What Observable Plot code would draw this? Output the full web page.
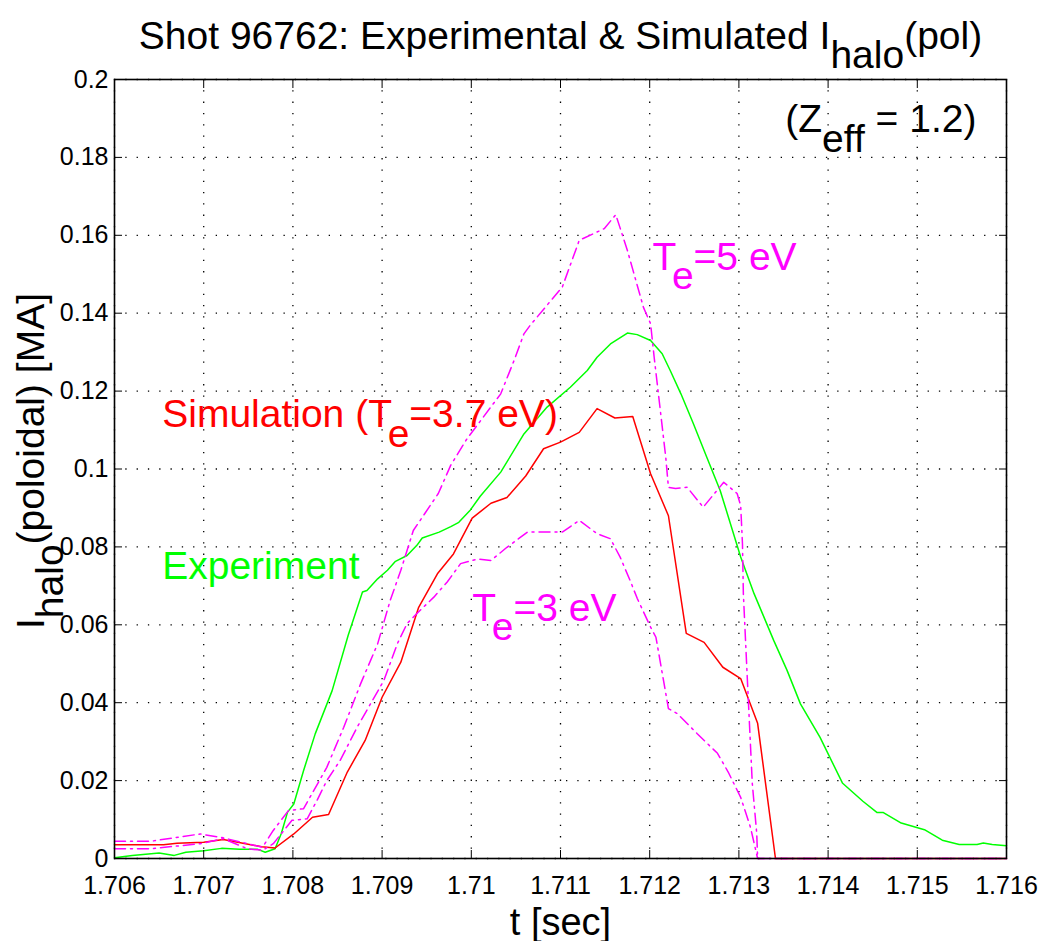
<!DOCTYPE html>
<html>
<head>
<meta charset="utf-8">
<script src="https://cdn.jsdelivr.net/npm/d3@7"></script>
<script src="https://cdn.jsdelivr.net/npm/@observablehq/plot@0.6"></script>
<style>
  html, body { margin: 0; padding: 0; background: #fff; }
  svg { display: block; }
</style>
</head>
<body>
<div id="chart"></div>
<script>
// ---------- data ----------
const expT = [1.70600, 1.70620, 1.70650, 1.70667, 1.70680, 1.70700, 1.70720, 1.70740, 1.70760, 1.70769, 1.70780, 1.70787, 1.70794, 1.70801, 1.70812, 1.70825, 1.70844, 1.70862, 1.70878, 1.70883, 1.70895, 1.70906, 1.70915, 1.70928, 1.70939, 1.70945, 1.70964, 1.70977, 1.70986, 1.70999, 1.71010, 1.71033, 1.71059, 1.71085, 1.71111, 1.71130, 1.71141, 1.71156, 1.71175, 1.71186, 1.71201, 1.71214, 1.71223, 1.71235, 1.71249, 1.71264, 1.71279, 1.71302, 1.71317, 1.71339, 1.71354, 1.71369, 1.71391, 1.71416, 1.71439, 1.71455, 1.71462, 1.71482, 1.71508, 1.71528, 1.71547, 1.71567, 1.71574, 1.71584, 1.71600];
const expI = [0.0002, 0.0008, 0.0014, 0.0008, 0.0016, 0.0020, 0.0026, 0.0024, 0.0024, 0.0016, 0.0025, 0.0064, 0.0119, 0.0140, 0.0226, 0.0320, 0.0431, 0.0573, 0.0684, 0.0688, 0.0718, 0.0740, 0.0763, 0.0778, 0.0804, 0.0823, 0.0838, 0.0852, 0.0863, 0.0895, 0.0930, 0.0992, 0.1090, 0.1159, 0.1210, 0.1253, 0.1287, 0.1321, 0.1349, 0.1345, 0.1330, 0.1296, 0.1253, 0.1193, 0.1116, 0.1030, 0.0945, 0.0774, 0.0680, 0.0560, 0.0483, 0.0397, 0.0311, 0.0194, 0.0147, 0.0118, 0.0118, 0.0091, 0.0074, 0.0047, 0.0036, 0.0036, 0.0040, 0.0036, 0.0033];

const simT = [1.70600, 1.70655, 1.70670, 1.70700, 1.70722, 1.70765, 1.70780, 1.70801, 1.70822, 1.70840, 1.70861, 1.70881, 1.70900, 1.70921, 1.70941, 1.70962, 1.70980, 1.71001, 1.71022, 1.71040, 1.71061, 1.71081, 1.71100, 1.71121, 1.71141, 1.71161, 1.71181, 1.71201, 1.71221, 1.71241, 1.71261, 1.71282, 1.71302, 1.71321, 1.71341, 1.71600];
const simI = [0.0035, 0.0035, 0.0039, 0.0042, 0.0049, 0.0030, 0.0027, 0.0063, 0.0106, 0.0113, 0.0222, 0.0303, 0.0414, 0.0504, 0.0645, 0.0731, 0.0782, 0.0874, 0.0912, 0.0927, 0.0982, 0.1052, 0.1069, 0.1094, 0.1155, 0.1131, 0.1135, 0.0988, 0.0880, 0.0578, 0.0555, 0.0491, 0.0462, 0.0347, 0.0000, 0.0000];

const te5T = [1.70600, 1.70640, 1.70696, 1.70722, 1.70749, 1.70766, 1.70778, 1.70795, 1.70812, 1.70838, 1.70857, 1.70876, 1.70895, 1.70909, 1.70921, 1.70935, 1.70963, 1.70977, 1.70995, 1.71033, 1.71048, 1.71059, 1.71066, 1.71084, 1.71102, 1.71121, 1.71149, 1.71162, 1.71175, 1.71193, 1.71201, 1.71205, 1.71218, 1.71221, 1.71229, 1.71242, 1.71260, 1.71283, 1.71298, 1.71302, 1.71304, 1.71305, 1.71309, 1.71315, 1.71320, 1.71321, 1.71600];
const te5I = [0.0044, 0.0044, 0.0063, 0.0053, 0.0038, 0.0029, 0.0072, 0.0123, 0.0128, 0.0234, 0.0337, 0.0449, 0.0551, 0.0662, 0.0740, 0.0842, 0.0937, 0.1010, 0.1077, 0.1193, 0.1279, 0.1347, 0.1369, 0.1418, 0.1467, 0.1587, 0.1617, 0.1653, 0.1561, 0.1415, 0.1373, 0.1287, 0.1030, 0.0953, 0.0950, 0.0953, 0.0902, 0.0966, 0.0937, 0.0906, 0.0808, 0.0680, 0.0483, 0.0193, 0.0064, 0.0000, 0.0000];

const te3T = [1.70600, 1.70640, 1.70696, 1.70722, 1.70749, 1.70766, 1.70778, 1.70799, 1.70816, 1.70827, 1.70838, 1.70853, 1.70872, 1.70887, 1.70902, 1.70917, 1.70928, 1.70939, 1.70958, 1.70973, 1.70988, 1.71007, 1.71022, 1.71040, 1.71053, 1.71063, 1.71102, 1.71121, 1.71141, 1.71156, 1.71167, 1.71178, 1.71186, 1.71201, 1.71207, 1.71221, 1.71231, 1.71253, 1.71276, 1.71288, 1.71302, 1.71313, 1.71321, 1.71600];
const te3I = [0.0025, 0.0025, 0.0038, 0.0051, 0.0025, 0.0021, 0.0038, 0.0098, 0.0102, 0.0149, 0.0200, 0.0252, 0.0337, 0.0397, 0.0457, 0.0551, 0.0603, 0.0629, 0.0671, 0.0710, 0.0757, 0.0769, 0.0765, 0.0799, 0.0821, 0.0838, 0.0838, 0.0868, 0.0834, 0.0821, 0.0773, 0.0714, 0.0668, 0.0594, 0.0568, 0.0385, 0.0372, 0.0321, 0.0270, 0.0222, 0.0157, 0.0080, 0.0000, 0.0000];

const xTicks = [1.706, 1.707, 1.708, 1.709, 1.710, 1.711, 1.712, 1.713, 1.714, 1.715, 1.716];
const yTicks = [0, 0.02, 0.04, 0.06, 0.08, 0.1, 0.12, 0.14, 0.16, 0.18, 0.2];

const annoText  = ["(Z_{eff} = 1.2)", "T_{e}=5 eV", "Simulation (T_{e}=3.7 eV)", "Experiment", "T_{e}=3 eV"];
const annoX     = [1.71352, 1.71203, 1.706535, 1.706535, 1.71001];
const annoY     = [0.1864, 0.1512, 0.1107, 0.0718, 0.0611];
const annoColor = ["#000000", "#ff00ff", "#ff0000", "#00ff00", "#ff00ff"];

const titleText  = "Shot 96762: Experimental & Simulated I_{halo}(pol)";
const xLabelText = "t [sec]";
const yLabelText = "I_{halo}(poloidal) [MA]";

// ---------- build ----------
const toRows = (T, V) => T.map((t, i) => ({t, v: V[i]}));
const expRows = toRows(expT, expI);
const simRows = toRows(simT, simI);
const te5Rows = toRows(te5T, te5I);
const te3Rows = toRows(te3T, te3I);
const annoRows = annoText.map((s, i) => ({s, x: annoX[i], y: annoY[i], c: annoColor[i]}));

const FONT = "'Liberation Sans', Arial, Helvetica, sans-serif";
const TICKSIZE = 25;

const gridStyle = {stroke: "#000", strokeOpacity: 1, strokeWidth: 1.3, strokeDasharray: "1.3,10"};
const dashDot = "11,5,2,5";

const chart = Plot.plot({
  width: 1046,
  height: 941,
  marginLeft: 114,
  marginRight: 40,
  marginTop: 79,
  marginBottom: 83,
  style: {fontFamily: FONT, background: "#fff", color: "#000", overflow: "visible"},
  x: {domain: [1.706, 1.716]},
  y: {domain: [0, 0.2]},
  marks: [
    Plot.gridX(xTicks, gridStyle),
    Plot.gridY(yTicks, gridStyle),
    Plot.line(expRows, {x: "t", y: "v", stroke: "#00ff00", strokeWidth: 1.5}),
    Plot.line(simRows, {x: "t", y: "v", stroke: "#ff0000", strokeWidth: 1.5}),
    Plot.line(te5Rows, {x: "t", y: "v", stroke: "#ff00ff", strokeWidth: 1.5, strokeDasharray: dashDot}),
    Plot.line(te3Rows, {x: "t", y: "v", stroke: "#ff00ff", strokeWidth: 1.5, strokeDasharray: dashDot}),
    Plot.frame({stroke: "#000", strokeWidth: 1.6}),
    Plot.axisX(xTicks, {anchor: "bottom", tickSize: -8, tickPadding: 26, tickFormat: d => String(d), fontSize: TICKSIZE, label: null}),
    Plot.axisX(xTicks, {anchor: "top", tickSize: -8, tickFormat: () => "", label: null}),
    Plot.axisY(yTicks, {anchor: "left", tickSize: -8, tickPadding: 14, tickFormat: d => String(d), fontSize: TICKSIZE, label: null}),
    Plot.axisY(yTicks, {anchor: "right", tickSize: -8, tickFormat: () => "", label: null}),
    Plot.text(annoRows, {x: "x", y: "y", text: "s", fill: "c", textAnchor: "start", lineAnchor: "bottom", fontSize: 39}),
    Plot.text([titleText], {text: d => d, frameAnchor: "top", textAnchor: "middle", lineAnchor: "bottom", dy: -31, fontSize: 39, fill: "#000"}),
    Plot.text([xLabelText], {text: d => d, frameAnchor: "bottom", textAnchor: "middle", lineAnchor: "bottom", dy: 76, fontSize: 38, fill: "#000"}),
    Plot.text([yLabelText], {text: d => d, frameAnchor: "left", textAnchor: "middle", lineAnchor: "bottom", rotate: -90, dx: -71, dy: -8, fontSize: 39, fill: "#000"})
  ]
});

// Convert "_{...}" into subscript tspans (same size, lowered), as in MATLAB TeX labels
d3.select(chart).selectAll("text").each(function () {
  const el = this;
  const s = el.textContent;
  if (!s || s.indexOf("_{") < 0) return;
  const parts = s.split(/(_\{[^}]*\})/).filter(p => p.length);
  el.textContent = "";
  let lowered = false;
  for (const p of parts) {
    const sub = p.startsWith("_{");
    const ts = d3.select(el).append("tspan").text(sub ? p.slice(2, -1) : p);
    if (sub && !lowered) { ts.attr("dy", "0.5em"); lowered = true; }
    else if (!sub && lowered) { ts.attr("dy", "-0.5em"); lowered = false; }
  }
});

document.getElementById("chart").appendChild(chart);
</script>
</body>
</html>
